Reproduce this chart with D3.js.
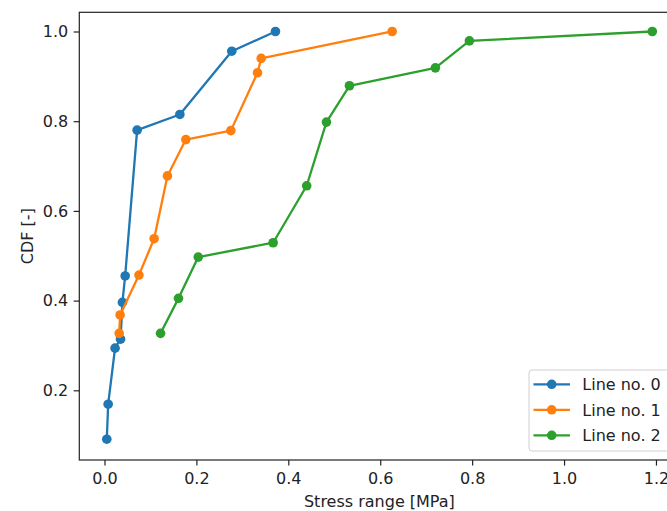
<!DOCTYPE html>
<html>
<head>
  <style>
    body { margin: 0; background: #fff; }
    svg text { font-family: "DejaVu Sans", sans-serif; fill: #222; }
  </style>
  <script src="https://d3js.org/d3.v7.min.js"></script>
</head>
<body>
  <svg id="chart" width="667" height="511"></svg>
  <script>
    // values
    const seriesNames = ['Line no. 0', 'Line no. 1', 'Line no. 2'];
    const colors = ['#1f77b4', '#ff7f0e', '#2ca02c'];

    const line0X = [0.005, 0.008, 0.023, 0.035, 0.039, 0.045, 0.071, 0.164, 0.277, 0.372];
    const line0Y = [0.091, 0.169, 0.294, 0.314, 0.396, 0.455, 0.780, 0.815, 0.956, 1.0];

    const line1X = [0.032, 0.034, 0.075, 0.108, 0.137, 0.177, 0.275, 0.333, 0.341, 0.626];
    const line1Y = [0.327, 0.368, 0.457, 0.538, 0.678, 0.759, 0.779, 0.908, 0.940, 1.0];

    const line2X = [0.122, 0.161, 0.204, 0.367, 0.440, 0.483, 0.533, 0.720, 0.794, 1.192];
    const line2Y = [0.327, 0.405, 0.497, 0.529, 0.656, 0.798, 0.879, 0.919, 0.979, 1.0];

    const xTicks = [0.0, 0.2, 0.4, 0.6, 0.8, 1.0, 1.2];
    const yTicks = [0.2, 0.4, 0.6, 0.8, 1.0];

    const series = [
      d3.zip(line0X, line0Y),
      d3.zip(line1X, line1Y),
      d3.zip(line2X, line2Y)
    ];

    const plotL = 79.3, plotT = 12.3, plotR = 679.5, plotB = 460;
    const fontSize = '16px';

    const svg = d3.select('#chart');
    const x = d3.scaleLinear().domain([-0.0548, 1.2512]).range([plotL, plotR]);
    const y = d3.scaleLinear().domain([0.0446, 1.0428]).range([plotB, plotT]);

    // axes
    const xAxis = svg.append('g')
      .attr('transform', `translate(0,${plotB})`)
      .call(d3.axisBottom(x).tickValues(xTicks).tickFormat(d3.format('.1f')).tickSize(5.6).tickPadding(7.5));
    const yAxis = svg.append('g')
      .attr('transform', `translate(${plotL},0)`)
      .call(d3.axisLeft(y).tickValues(yTicks).tickFormat(d3.format('.1f')).tickSize(5.6).tickPadding(5.5));

    [xAxis, yAxis].forEach(g => {
      g.select('.domain').remove();
      g.selectAll('line').attr('stroke', '#222').attr('stroke-width', 1.2);
      g.selectAll('text').attr('font-size', fontSize).attr('fill', '#222')
        .style('font-family', '"DejaVu Sans", sans-serif');
    });

    // frame
    svg.append('rect')
      .attr('x', plotL).attr('y', plotT)
      .attr('width', plotR - plotL).attr('height', plotB - plotT)
      .attr('fill', 'none').attr('stroke', '#222').attr('stroke-width', 1.2);

    const line = d3.line().x(d => x(d[0])).y(d => y(d[1]));

    series.forEach((pts, i) => {
      svg.append('path')
        .datum(pts)
        .attr('d', line)
        .attr('fill', 'none')
        .attr('stroke', colors[i])
        .attr('stroke-width', 2.3)
        .attr('stroke-linejoin', 'round');
      svg.append('g').selectAll('circle')
        .data(pts)
        .enter().append('circle')
        .attr('cx', d => x(d[0]))
        .attr('cy', d => y(d[1]))
        .attr('r', 4.8)
        .attr('fill', colors[i]);
    });

    // axis labels
    svg.append('text')
      .attr('x', (plotL + plotR) / 2)
      .attr('y', 507)
      .attr('text-anchor', 'middle')
      .attr('font-size', fontSize)
      .text('Stress range [MPa]');
    svg.append('text')
      .attr('transform', `translate(33,${(plotT + plotB) / 2}) rotate(-90)`)
      .attr('text-anchor', 'middle')
      .attr('font-size', fontSize)
      .text('CDF [-]');

    // legend
    const lg = svg.append('g');
    lg.append('rect')
      .attr('x', 529).attr('y', 370)
      .attr('width', 143).attr('height', 81)
      .attr('rx', 3)
      .attr('fill', 'rgba(255,255,255,0.8)')
      .attr('stroke', '#d0d0d0').attr('stroke-width', 1);
    seriesNames.forEach((name, i) => {
      const cy = 384.3 + i * 25.5;
      lg.append('line')
        .attr('x1', 533.5).attr('x2', 570)
        .attr('y1', cy).attr('y2', cy)
        .attr('stroke', colors[i]).attr('stroke-width', 2.3);
      lg.append('circle')
        .attr('cx', 551.7).attr('cy', cy).attr('r', 4.8)
        .attr('fill', colors[i]);
      lg.append('text')
        .attr('x', 582.3).attr('y', cy + 5.8)
        .attr('font-size', fontSize)
        .text(name);
    });
  </script>
</body>
</html>
